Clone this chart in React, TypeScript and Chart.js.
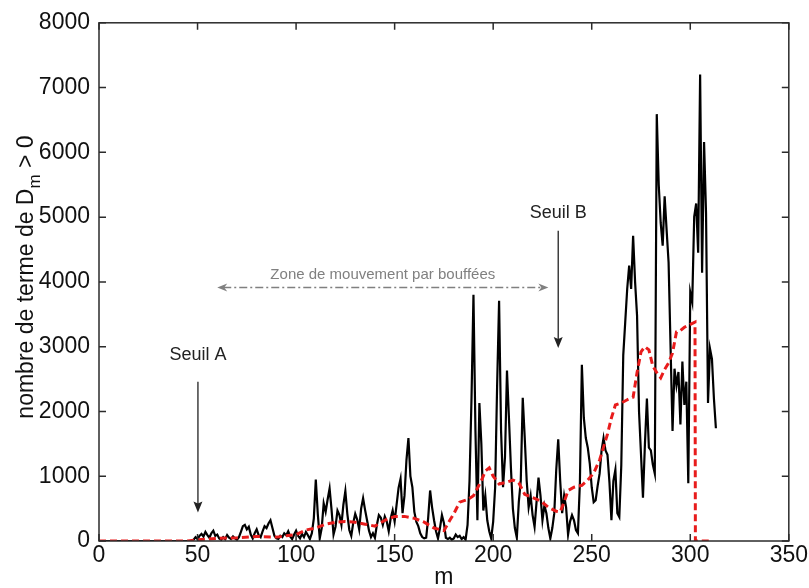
import React, { useEffect, useRef } from "react";
import { Chart, registerables } from "chart.js";

Chart.register(...registerables);

// ---------- data ----------
const xTicks = [0, 50, 100, 150, 200, 250, 300, 350];
const yTicks = [0, 1000, 2000, 3000, 4000, 5000, 6000, 7000, 8000];

// black series: one value per m, starting at m = 0
const blackValues = [
  0, 0, 0, 0, 0, 0, 0, 0, 0, 0,
  0, 0, 0, 0, 0, 0, 0, 0, 0, 0,
  0, 0, 0, 0, 0, 0, 0, 0, 0, 0,
  0, 0, 0, 0, 0, 0, 0, 0, 0, 0,
  0, 0, 0, 0, 0, 0, 0, 0, 20, 60,
  30, 80, 110, 70, 140, 90, 50, 120, 160, 80,
  100, 40, 20, 60, 30, 90, 50, 30, 70, 40,
  20, 60, 140, 230, 250, 180, 220, 100, 40, 120,
  180, 90, 60, 150, 230, 200, 270, 320, 200, 80,
  40, 30, 80, 60, 120, 90, 150, 70, 30, 100,
  160, 80, 40, 110, 60, 140, 90, 30, 120, 350,
  950, 420, 40, 200, 580, 450, 640, 810, 480, 100,
  220, 470, 400, 250, 560, 770, 420, 170, 80, 280,
  420, 330, 180, 500, 660, 480, 320, 160, 60, 120,
  50, 250, 400, 360, 250, 380, 300, 150, 350, 470,
  300, 560, 820, 960, 430, 700, 1250, 1590, 1000, 830,
  450, 300, 230, 120, 60, 40, 50, 350, 780, 520,
  320, 150, 40, 200, 400, 280, 50, 30, 50, 20,
  40, 100, 60, 80, 30, 60, 20, 250, 930, 2200,
  3800, 1700, 320, 2130, 1500, 470, 700, 320, 150, 40,
  300, 830, 2400, 3710, 1700, 830, 1300, 2630, 1900, 1130,
  500, 200, 50, 600, 930, 2210, 1600, 930, 520, 700,
  400, 220, 600, 980, 700, 320, 550, 430, 200, 40,
  200, 430, 1100, 1570, 930, 430, 700, 520, 100, 300,
  400, 320, 170, 120, 900, 2720, 1900, 1590, 1440, 1200,
  830, 600, 630, 850, 1040, 1400, 1590, 1400, 1330, 900,
  320, 930, 1100, 430, 370, 1170, 2870, 3380, 3890, 4250,
  3890, 4710, 4000, 3480, 2000, 1340, 670, 1500, 2200, 1440,
  1400, 1180, 1040, 6590, 5500, 4910, 4560, 5320, 4800, 4300,
  3000, 1700, 2660, 2400, 2610, 1800, 2770, 2100, 2460, 890,
  3840, 3690, 5010, 5210, 4450, 7200, 4140, 6160, 5060, 2130,
  2970, 2810, 2200, 1740,
];

// red dashed (smoothed) series
const redPositions = [
  0, 45, 50, 55, 60, 70, 80, 90, 95, 100, 105, 110, 115, 120, 125, 130, 135, 140,
  145, 150, 155, 160, 165, 170, 175, 178, 180, 183, 187, 190, 194, 196, 198, 200,
  203, 206, 210, 213, 216, 220, 224, 228, 232, 234, 236, 238, 241, 245, 248, 251,
  254, 256, 258, 260, 262, 265, 268, 271, 273, 275, 277, 279, 281, 283, 285, 287,
  289, 291, 293, 295, 297, 299, 302.4, 302.6, 310,
];
const redValues = [
  0, 0, 20, 30, 40, 50, 70, 60, 80, 100, 170, 200, 260, 290, 300, 290, 260, 230,
  320, 380, 380, 350, 290, 200, 160, 320, 420, 600, 640, 700, 930, 1080, 1130, 1000,
  880, 900, 940, 900, 720, 670, 620, 520, 460, 450, 600, 780, 830, 860, 940, 1050,
  1250, 1450, 1650, 1900, 2100, 2130, 2180, 2220, 2600, 2920, 3000, 2950, 2700, 2600, 2520, 2650,
  2750, 2900, 3230, 3250, 3300, 3330, 3380, 0, 0,
];

// annotations (data units)
const seuilLabels = ["Seuil A", "Seuil B"];
const seuilM = [50.2, 233];
const seuilTextY = [2870, 5060];
const seuilArrowFrom = [2460, 4790];
const seuilArrowTo = [440, 2980];
const zoneLabel = "Zone de mouvement par bouffées";
const zoneFromM = 60;
const zoneToM = 228;
const zoneY = 3914;

const FONT = "'Liberation Sans', Arial, Helvetica, sans-serif";

function arrowHead(ctx: CanvasRenderingContext2D, x: number, y: number, angle: number, len: number, half: number, notch: number) {
  ctx.save();
  ctx.translate(x, y);
  ctx.rotate(angle);
  ctx.beginPath();
  ctx.moveTo(0, 0);
  ctx.lineTo(-len, -half);
  ctx.lineTo(-len + notch, 0);
  ctx.lineTo(-len, half);
  ctx.closePath();
  ctx.fill();
  ctx.restore();
}

const framePlugin = {
  id: "frame",
  afterDatasetsDraw(chart: any) {
    const { ctx, chartArea: a, scales } = chart;
    const xs = scales.x;
    const ys = scales.y;
    ctx.save();
    // box
    ctx.strokeStyle = "#2b2b2b";
    ctx.lineWidth = 1.5;
    ctx.strokeRect(a.left, a.top, a.right - a.left, a.bottom - a.top);
    // inward ticks
    const tl = 7;
    ctx.beginPath();
    xTicks.forEach((v) => {
      const px = xs.getPixelForValue(v);
      ctx.moveTo(px, a.bottom);
      ctx.lineTo(px, a.bottom - tl);
      ctx.moveTo(px, a.top);
      ctx.lineTo(px, a.top + tl);
    });
    yTicks.forEach((v) => {
      const py = ys.getPixelForValue(v);
      ctx.moveTo(a.left, py);
      ctx.lineTo(a.left + tl, py);
      ctx.moveTo(a.right, py);
      ctx.lineTo(a.right - tl, py);
    });
    ctx.stroke();

    // Seuil annotations
    ctx.fillStyle = "#222";
    ctx.strokeStyle = "#222";
    ctx.lineWidth = 1.3;
    ctx.font = `18px ${FONT}`;
    ctx.textAlign = "center";
    ctx.textBaseline = "middle";
    seuilLabels.forEach((lab, i) => {
      const px = xs.getPixelForValue(seuilM[i]);
      ctx.fillText(lab, px, ys.getPixelForValue(seuilTextY[i]));
      const y0 = ys.getPixelForValue(seuilArrowFrom[i]);
      const y1 = ys.getPixelForValue(seuilArrowTo[i]);
      ctx.beginPath();
      ctx.moveTo(px, y0);
      ctx.lineTo(px, y1 - 6);
      ctx.stroke();
      arrowHead(ctx, px, y1, Math.PI / 2, 11, 4.5, 2);
    });

    // zone arrow
    const zx0 = xs.getPixelForValue(zoneFromM);
    const zx1 = xs.getPixelForValue(zoneToM);
    const zy = ys.getPixelForValue(zoneY);
    ctx.strokeStyle = "#808080";
    ctx.fillStyle = "#808080";
    ctx.lineWidth = 1.5;
    ctx.setLineDash([8, 3, 2, 3]);
    ctx.beginPath();
    ctx.moveTo(zx0 + 6, zy);
    ctx.lineTo(zx1 - 6, zy);
    ctx.stroke();
    ctx.setLineDash([]);
    arrowHead(ctx, zx0, zy, Math.PI, 10, 4, 3);
    arrowHead(ctx, zx1, zy, 0, 10, 4, 3);
    ctx.font = `15px ${FONT}`;
    ctx.textBaseline = "alphabetic";
    ctx.fillText(zoneLabel, (zx0 + zx1) / 2, zy - 8);

    // x title
    ctx.fillStyle = "#111";
    ctx.font = `23px ${FONT}`;
    ctx.textAlign = "center";
    ctx.fillText("m", (a.left + a.right) / 2, 584);

    // y title with subscript
    const F = 23;
    const part1 = "nombre de terme de D";
    const sub = "m";
    const part2 = " > 0";
    ctx.font = `${F}px ${FONT}`;
    const w1 = ctx.measureText(part1).width;
    const w3 = ctx.measureText(part2).width;
    ctx.font = `${Math.round(F * 0.72)}px ${FONT}`;
    const w2 = ctx.measureText(sub).width;
    const total = w1 + w2 + w3;
    ctx.translate(33, 277);
    ctx.rotate(-Math.PI / 2);
    ctx.textAlign = "left";
    ctx.textBaseline = "alphabetic";
    let x = -total / 2;
    ctx.font = `${F}px ${FONT}`;
    ctx.fillText(part1, x, 0);
    x += w1;
    ctx.font = `${Math.round(F * 0.72)}px ${FONT}`;
    ctx.fillText(sub, x, F * 0.3);
    x += w2;
    ctx.font = `${F}px ${FONT}`;
    ctx.fillText(part2, x, 0);
    ctx.restore();
  },
};

export default function App() {
  const ref = useRef<HTMLCanvasElement | null>(null);
  useEffect(() => {
    if (!ref.current) return;
    const chart = new Chart(ref.current, {
      type: "line",
      data: {
        datasets: [
          {
            label: "lissé",
            data: redPositions.map((m, i) => ({ x: m, y: redValues[i] })),
            borderColor: "rgb(232,28,28)",
            borderWidth: 3,
            borderDash: [7, 4],
            pointRadius: 0,
            tension: 0,
            order: 0,
          },
          {
            label: "nombre",
            data: blackValues.map((v, i) => ({ x: i, y: v })),
            borderColor: "#000",
            borderWidth: 2.2,
            pointRadius: 0,
            tension: 0,
            order: 1,
          },
        ],
      },
      options: {
        animation: false,
        responsive: false,
        events: [],
        layout: { padding: { left: 0, right: 20, top: 18, bottom: 0 } },
        plugins: { legend: { display: false }, tooltip: { enabled: false } },
        scales: {
          x: {
            type: "linear",
            min: 0,
            max: 350,
            afterBuildTicks: (s: any) => {
              s.ticks = xTicks.map((v) => ({ value: v }));
            },
            afterFit: (s: any) => {
              s.height = 47;
            },
            grid: { display: false, drawTicks: false },
            border: { display: false },
            ticks: {
              padding: 1,
              maxRotation: 0,
              autoSkip: false,
              color: "#111",
              font: { family: FONT, size: 23 },
              callback: (v: any) => String(v),
            },
          },
          y: {
            type: "linear",
            min: 0,
            max: 8000,
            afterBuildTicks: (s: any) => {
              s.ticks = yTicks.map((v) => ({ value: v }));
            },
            afterFit: (s: any) => {
              s.width = 99;
            },
            grid: { display: false, drawTicks: false },
            border: { display: false },
            ticks: {
              padding: 9,
              autoSkip: false,
              color: "#111",
              font: { family: FONT, size: 23 },
              callback: (v: any) => String(v),
            },
          },
        },
      },
      plugins: [framePlugin],
    });
    return () => chart.destroy();
  }, []);
  return (
    <div style={{ position: "fixed", left: 0, top: 0, width: 809, height: 588, background: "#fff" }}>
      <canvas ref={ref} width={809} height={588} style={{ display: "block" }} />
    </div>
  );
}
